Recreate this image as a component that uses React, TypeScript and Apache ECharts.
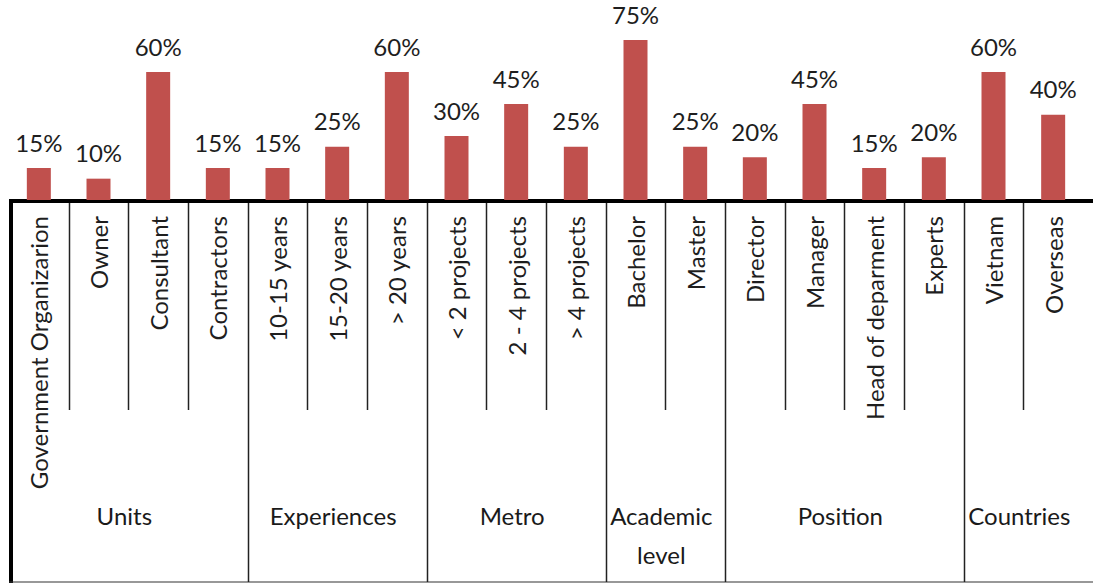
import React, { useEffect, useRef } from "react";
import * as echarts from "echarts";

const categories = [
  "Government Organizarion",
  "Owner",
  "Consultant",
  "Contractors",
  "10-15 years",
  "15-20 years",
  "> 20 years",
  "< 2 projects",
  "2 - 4 projects",
  "> 4 projects",
  "Bachelor",
  "Master",
  "Director",
  "Manager",
  "Head of deparment",
  "Experts",
  "Vietnam",
  "Overseas",
];

const values = [15, 10, 60, 15, 15, 25, 60, 30, 45, 25, 75, 25, 20, 45, 15, 20, 60, 40];

const groupNames = ["Units", "Experiences", "Metro", "Academic\nlevel", "Position", "Countries"];
const groupStarts = [0, 4, 7, 10, 12, 16];
const groupEnds = [3, 6, 9, 11, 15, 17];

const FONT = "Lato, 'Open Sans', sans-serif";

export default function App() {
  const ref = useRef<HTMLDivElement>(null);

  useEffect(() => {
    if (!ref.current) return;
    const chart = echarts.init(ref.current, undefined, { renderer: "svg" });

    const boundaries: number[][] = [];
    for (let k = 1; k < categories.length; k++) {
      boundaries.push([k, 0, groupStarts.includes(k) ? 1 : 0]);
    }
    const groupData = groupStarts.map((s, i) => [s, 0, groupEnds[i]]);

    chart.setOption({
      animation: false,
      backgroundColor: "#ffffff",
      grid: { left: 9, right: 10, top: 8, bottom: 383, containLabel: false },
      xAxis: {
        type: "category",
        data: categories,
        boundaryGap: true,
        axisLine: { show: false },
        axisTick: { show: false },
        axisLabel: {
          interval: 0,
          rotate: 90,
          margin: 16,
          fontSize: 24,
          fontFamily: FONT,
          color: "#1e1e1e",
        },
      },
      yAxis: {
        type: "value",
        min: 0,
        max: 90,
        show: false,
        splitLine: { show: false },
      },
      graphic: [
        { type: "line", shape: { x1: 9, y1: 201, x2: 1093, y2: 201 }, style: { stroke: "#000", lineWidth: 4 } },
        { type: "line", shape: { x1: 11, y1: 199, x2: 11, y2: 583 }, style: { stroke: "#000", lineWidth: 4 } },
        { type: "line", shape: { x1: 9, y1: 582, x2: 1093, y2: 582 }, style: { stroke: "#333", lineWidth: 1.2 } },
      ],
      series: [
        {
          type: "bar",
          data: values,
          barWidth: 24,
          itemStyle: { color: "#C0504D" },
          label: {
            show: true,
            position: "top",
            distance: 14,
            formatter: "{c}%",
            fontSize: 24,
            fontFamily: FONT,
            color: "#1e1e1e",
          },
          silent: true,
        },
        {
          type: "custom",
          data: boundaries,
          encode: { x: 0, y: 1 },
          silent: true,
          clip: false,
          renderItem: (params: any, api: any) => {
            const k = api.value(0);
            const c = api.coord([k, 0]);
            const bw = api.size([1, 0])[0];
            const x = Math.round(c[0] - bw / 2) + 0.5;
            const long = api.value(2) === 1;
            return {
              type: "line",
              shape: { x1: x, y1: c[1] + 3, x2: x, y2: c[1] + (long ? 382 : 210) },
              style: { stroke: "#222", lineWidth: 1.5 },
            };
          },
        },
        {
          type: "custom",
          data: groupData,
          encode: { x: 0, y: 1 },
          silent: true,
          clip: false,
          renderItem: (params: any, api: any) => {
            const a = api.coord([api.value(0), 0]);
            const b = api.coord([api.value(2), 0]);
            const x = (a[0] + b[0]) / 2 - 4;
            return {
              type: "text",
              style: {
                text: groupNames[params.dataIndex],
                x,
                y: a[1] + 296,
                align: "center",
                verticalAlign: "top",
                font: `24px ${FONT}`,
                lineHeight: 39,
                fill: "#1a1a1a",
              },
            };
          },
        },
      ],
    });

    return () => chart.dispose();
  }, []);

  return (
    <div
      ref={ref}
      style={{ position: "absolute", left: 0, top: 0, width: 1093, height: 583, background: "#fff" }}
    />
  );
}
